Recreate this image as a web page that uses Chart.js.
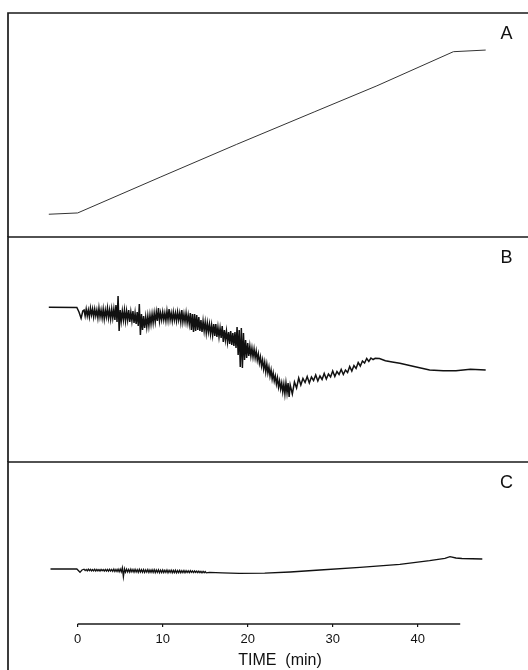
<!DOCTYPE html>
<html>
<head>
<meta charset="utf-8">
<script src="https://cdn.jsdelivr.net/npm/chart.js@4.4.1/dist/chart.umd.min.js"></script>
<style>
  html, body { margin: 0; padding: 0; background: #fff; overflow: hidden; }
  #fig { position: relative; width: 528px; height: 670px; overflow: hidden; background: #fff; }
  #fig canvas { position: absolute; left: 0; }
</style>
</head>
<body>
<div id="fig">
  <canvas id="panelA" width="552" height="237" style="top:0px"></canvas>
  <canvas id="panelB" width="552" height="235" style="top:227px"></canvas>
  <canvas id="panelC" width="552" height="218" style="top:452px"></canvas>
</div>
<script>
// ---- time axis (min) ----
const xTicks = [0, 10, 20, 30, 40];
const xAxisSpan = [0, 45];
const X_MIN = -8.2, X_MAX = 55.8;

// ---- trace A: gradient programme (%) ----
const aTime  = [-3.4, 0, 9.7, 18.7, 27.9, 35.2, 44.2, 48.0];
const aValue = [0, 0.8, 22.8, 43, 63.1, 79, 100, 101];

// ---- trace B: detector signal (arbitrary units) ----
const bLeadTime  = [-3.4, -0.1, 0.15, 0.4, 0.6];
const bLeadValue = [154.7, 154.5, 150, 143.7, 151];
// heavy noise, sampled every 0.25 min from 0.75 min: upper / lower excursions
const bNoiseStart = 0.75, bNoiseStep = 0.25;
const bHigh = [
  152,153,152,154,153,153,152,154,152,153,
  152,154,152,153,153,157,166,152,151,152,
  151,152,150,151,149,150,158,148,146,145,
  146,147,148,149,150,154,149,150,149,151,
  153,149,150,149,150,149,152,148,149,147,
  149,148,148,147,145,142,141,140,139,138,
  137,138,138,135,134,136,132,131,130,131,
  129,130,135,132,134,129,122,119,116,114,
  113,111,108,105,102,100,98,95,92,89,
  86,84,81,79,78,79,79
];
const bLow = [
  146,146,145,147,145,146,144,145,144,143,
  145,144,143,144,142,140,131,141,142,141,
  142,140,141,139,138,136,127,132,134,135,
  136,138,139,140,141,141,142,142,141,142,
  142,141,142,141,142,140,140,140,139,138,
  132,130,131,132,131,130,131,129,130,128,
  127,126,125,125,124,120,122,120,118,117,
  116,114,107,95,94,102,104,106,106,105,
  104,102,99,96,93,90,89,86,83,81,
  78,75,73,70,68,69,65
];
// lighter ripple during the recovery, sampled every 0.5 min from 25 min
const bRippleStart = 25.0, bRippleStep = 0.5;
const bRippleHigh = [77, 80, 84, 83.5, 85.5, 85, 87, 86, 88.5, 88, 91, 90.5, 92.5, 92, 95.5, 96.5, 99.5, 101, 103.5, 104];
const bRippleLow  = [68, 74, 77, 79.5, 79, 81.5, 81, 82.5, 83, 85, 85.5, 87.5, 87.5, 89.5, 91, 93.5, 96, 99, 100.5, 102.5];
const bTailTime  = [35.0, 35.5, 36.2, 37.0, 37.9, 39.7, 41.4, 43.0, 44.5, 46.2, 48.0];
const bTailValue = [103.7, 103.5, 101.3, 100, 98.7, 95.3, 92, 91.2, 91.3, 92.7, 92];

// ---- trace C: second detector signal (arbitrary units) ----
const cLeadTime  = [-3.2, -0.1, 0.27, 0.5];
const cLeadValue = [55, 55, 51.7, 54];
const cNoiseStart = 0.75, cNoiseStep = 0.25;
const cHigh = [
  54.8,54.6,54.9,54.7,54.5,54.8,54.6,54.5,54.7,54.4,
  54.6,54.5,54.7,54.6,54.9,54.5,54.8,55.0,56.3,55.2,
  54.9,54.6,54.8,54.5,54.7,54.4,54.6,54.3,54.5,54.2,
  54.4,54.1,54.3,54.4,54.0,54.2,53.9,54.1,53.8,54.0,
  53.7,53.9,53.6,53.8,53.5,53.7,53.4,53.6,53.3,53.2,
  53.4,53.1,53.0,52.9,52.8,52.7,52.6,52.5
];
const cLow = [
  53.4,53.2,53.3,53.1,53.2,53.0,53.1,53.0,53.2,52.9,
  53.0,52.8,53.0,52.6,52.5,52.4,52.3,52.2,47.3,51.8,
  52.0,51.9,52.1,51.8,52.0,51.7,51.9,51.8,51.6,51.8,
  51.5,51.7,51.6,51.4,51.6,51.3,51.5,51.4,51.6,51.3,
  51.5,51.2,51.4,51.1,51.3,51.2,51.4,51.3,51.5,51.3,
  51.6,51.4,51.5,51.3,51.4,51.2,51.3,51.2
];
const cTailTime  = [15.5, 17, 19, 22, 25, 28.5, 33.2, 37.9, 41.4, 43.2, 43.8, 44.5, 45.2, 47.6];
const cTailValue = [51.6, 51.2, 50.7, 50.8, 52, 54, 56.7, 59.7, 63.3, 65.7, 67.3, 66, 65.5, 65];

// ---- helpers ----
const FONT = '"Liberation Sans", Arial, Helvetica, sans-serif';

function pairs(ts, vs) {
  return ts.map((t, i) => ({ x: t, y: vs[i] }));
}
// recorder noise: alternate between upper and lower excursion at each sample
function hatch(t0, step, hi, lo) {
  const pts = [];
  hi.forEach((h, i) => {
    const t = t0 + i * step;
    pts.push({ x: t, y: h }, { x: t + step / 2, y: lo[i] });
  });
  return pts;
}

const framePlugin = {
  id: 'frame',
  afterDraw(chart, args, opts) {
    const { ctx, chartArea: a } = chart;
    ctx.save();
    ctx.strokeStyle = '#1a1a1a';
    ctx.lineWidth = 1.7;
    ctx.beginPath();
    ctx.moveTo(a.left, opts.leftToEdge ? chart.height : a.bottom);
    ctx.lineTo(a.left, a.top);
    ctx.lineTo(a.right, a.top);
    ctx.stroke();

    if (opts.axisSpan) {
      const xs = chart.scales.x;
      ctx.lineWidth = 1.4;
      ctx.beginPath();
      ctx.moveTo(xs.getPixelForValue(opts.axisSpan[0]), a.bottom);
      ctx.lineTo(xs.getPixelForValue(opts.axisSpan[1]), a.bottom);
      ctx.stroke();
    }

    ctx.fillStyle = '#111';
    ctx.font = '18px ' + FONT;
    ctx.textAlign = 'center';
    ctx.textBaseline = 'middle';
    ctx.fillText(opts.letter, a.left + 498.5, a.top + 21);
    ctx.restore();
  }
};

function makeChart(id, data, lineWidth, color, yMin, yMax, padTop, opts) {
  const showX = !!opts.showX;
  return new Chart(document.getElementById(id), {
    type: 'line',
    data: {
      datasets: [{
        data: data,
        borderColor: color,
        borderWidth: lineWidth,
        pointRadius: 0,
        tension: 0,
        fill: false
      }]
    },
    options: {
      responsive: false,
      animation: false,
      devicePixelRatio: 1,
      parsing: false,
      layout: { padding: { left: 8, right: 0, top: padTop, bottom: 0 } },
      plugins: {
        legend: { display: false },
        tooltip: { enabled: false },
        frame: { letter: opts.letter, leftToEdge: showX, axisSpan: showX ? xAxisSpan : null }
      },
      scales: {
        x: {
          type: 'linear',
          min: X_MIN,
          max: X_MAX,
          display: showX,
          border: { display: false },
          grid: { display: true, drawOnChartArea: false, drawTicks: true, tickLength: 3, color: '#111', lineWidth: 1.2 },
          ticks: { font: { family: FONT, size: 13 }, color: '#111', padding: 5, maxRotation: 0, autoSkip: false },
          title: { display: true, text: 'TIME  (min)', font: { family: FONT, size: 16 }, color: '#111', padding: { top: 0, bottom: 0 } },
          afterBuildTicks: s => { s.ticks = xTicks.map(v => ({ value: v })); },
          afterFit: s => { s.height = showX ? 46 : 0; }
        },
        y: { type: 'linear', min: yMin, max: yMax, display: false }
      }
    },
    plugins: [framePlugin]
  });
}

const traceA = pairs(aTime, aValue);
const traceB = pairs(bLeadTime, bLeadValue)
  .concat(hatch(bNoiseStart, bNoiseStep, bHigh, bLow))
  .concat(hatch(bRippleStart, bRippleStep, bRippleHigh, bRippleLow))
  .concat(pairs(bTailTime, bTailValue));
const traceC = pairs(cLeadTime, cLeadValue)
  .concat(hatch(cNoiseStart, cNoiseStep, cHigh, cLow))
  .concat(pairs(cTailTime, cTailValue));

makeChart('panelA', traceA, 1.0, '#333', -14, 123.8, 13, { letter: 'A' });
makeChart('panelB', traceB, 1.5, '#111', 0, 225, 10, { letter: 'B' });
makeChart('panelC', traceC, 1.3, '#111', 0, 162, 10, { letter: 'C', showX: true });
</script>
</body>
</html>
